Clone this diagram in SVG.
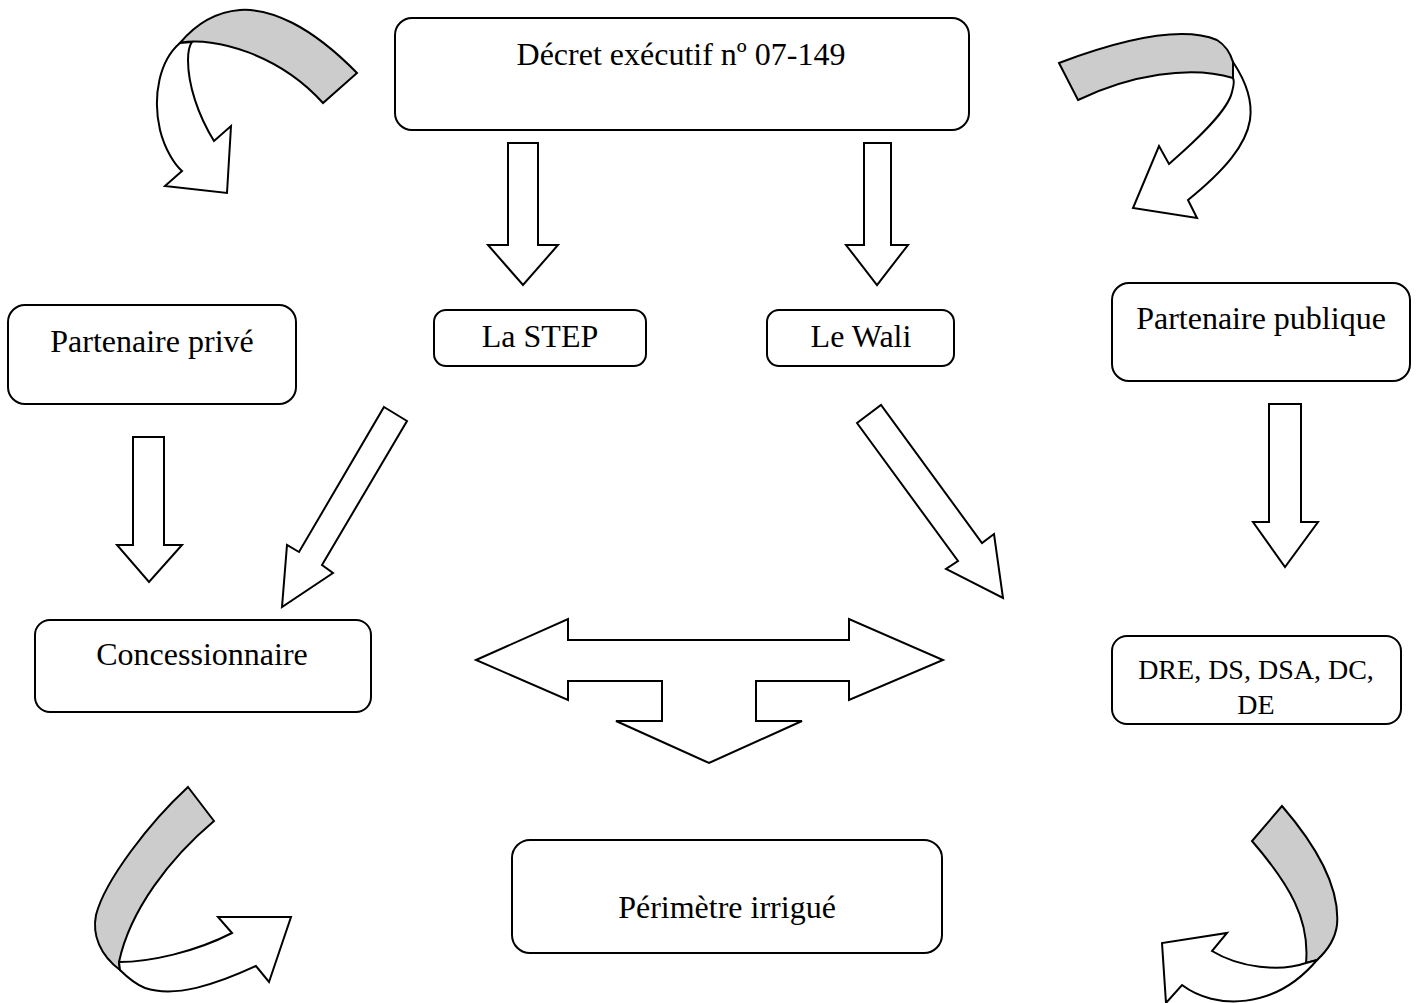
<svg xmlns="http://www.w3.org/2000/svg" width="1418" height="1003" viewBox="0 0 1418 1003">
<style>
.box{fill:#fff;stroke:#000;stroke-width:2}
.arr{fill:#fff;stroke:#000;stroke-width:2;stroke-linejoin:miter}
.band{fill:#cccccc;stroke:#000;stroke-width:2}
text{font-family:"Liberation Serif","Times New Roman",serif;font-size:32px;fill:#000;text-anchor:middle}
.small{font-size:28px}
</style>
<rect width="1418" height="1003" fill="#fff"/>
<g id="decret"><rect class="box" x="395" y="18" width="574" height="112" rx="17"/><text x="681" y="65">Décret exécutif nº 07-149</text></g>
<g id="partenaire-prive"><rect class="box" x="8" y="305" width="288" height="99" rx="17"/><text x="152" y="352">Partenaire privé</text></g>
<g id="step"><rect class="box" x="434" y="310" width="212" height="56" rx="12"/><text x="540" y="347">La STEP</text></g>
<g id="wali"><rect class="box" x="767" y="310" width="187" height="56" rx="12"/><text x="861" y="347">Le Wali</text></g>
<g id="partenaire-publique"><rect class="box" x="1112" y="283" width="298" height="98" rx="17"/><text x="1261" y="329">Partenaire publique</text></g>
<g id="concessionnaire"><rect class="box" x="35" y="620" width="336" height="92" rx="15"/><text x="202" y="665">Concessionnaire</text></g>
<g id="dre"><rect class="box" x="1112" y="636" width="289" height="88" rx="15"/><text class="small" x="1256" y="679">DRE, DS, DSA, DC,</text><text class="small" x="1256" y="714">DE</text></g>
<g id="perimetre"><rect class="box" x="512" y="840" width="430" height="113" rx="18"/><text x="727" y="918">Périmètre irrigué</text></g>
<g id="connectors">
<polygon class="arr" points="508,143 538,143 538,245 558,245 523,285 488,245 508,245"/>
<polygon class="arr" points="864,143 891,143 891,245 908,245 877,285 846,245 864,245"/>
<polygon class="arr" points="133,437 164,437 164,545 182,545 149,582 117,545 133,545"/>
<polygon class="arr" points="1269,404 1301,404 1301,522 1318,522 1285,567 1253,522 1269,522"/>
<polygon class="arr" points="384,407 407,421 322,565 333,573 282,607 287,545 299,552"/>
<polygon class="arr" points="857,423 881,405 982,543 994,534 1003,598 946,569 958,561"/>
<polygon class="arr" points="476,660 568,619 568,640 849,640 849,619 943,660 849,700 849,681 756,681 756,721 802,721 709,763 616,721 662,721 662,681 568,681 568,700"/>
<g id="curve-top-left">
<path class="band" d="M357,73 C310,25 270,8 240,10 C215,12 195,25 180,43 C215,36 280,55 323,103 Z"/>
<path class="arr" d="M180,43 C160,60 152,95 160,130 C165,150 175,165 182,171 L165,186 L227,193 L231,126 L214,141 C198,115 188,85 188,60 C188,52 189,46 192,42 Z"/>
</g>
<g id="curve-top-right">
<path class="band" d="M1059,63 C1120,40 1180,25 1217,40 C1225,45 1230,52 1233,62 L1233,78 C1190,65 1130,75 1078,100 Z"/>
<path class="arr" d="M1233,62 C1245,80 1253,100 1250,120 C1246,145 1225,170 1188,200 L1197,218 L1133,208 L1159,146 L1169,164 C1200,137 1228,110 1232,92 C1234,85 1234,80 1233,78 Z"/>
</g>
<g id="curve-bottom-left">
<path class="band" d="M188,787 L214,821 C170,858 130,910 119,962 L120,970 C100,955 92,935 96,915 C105,880 150,822 188,787 Z"/>
<path class="arr" d="M119,962 C150,962 195,952 232,933 L218,917 L291,917 L269,982 L256,966 C215,985 175,998 145,988 C135,984 127,977 120,970 Z"/>
</g>
<g id="curve-bottom-right">
<path class="band" d="M1282,806 L1252,841 C1290,885 1310,920 1306,963 L1317,960 C1328,950 1335,940 1337,925 C1340,890 1320,850 1282,806 Z"/>
<path class="arr" d="M1306,963 C1280,972 1240,968 1212,951 L1227,933 L1162,943 L1166,1003 L1182,985 C1215,1010 1275,1010 1317,960 Z"/>
</g>
</g>
</svg>
